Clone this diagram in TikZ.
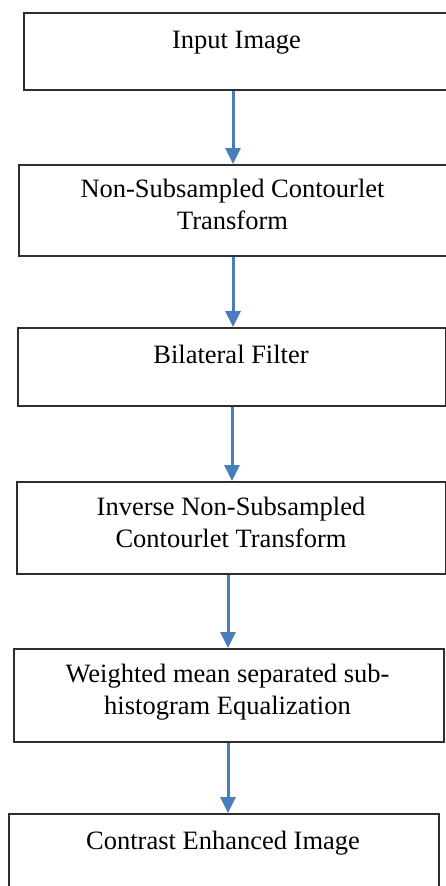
\documentclass[tikz,border=0pt]{standalone}
\usepackage{fontspec}
\setmainfont{Liberation Serif}
\usetikzlibrary{arrows.meta}
\definecolor{boxgray}{HTML}{2E2E2E}
\definecolor{arrowblue}{HTML}{4A7EBB}
\begin{document}
\begin{tikzpicture}[x=1pt,y=-1pt,
  box/.style={draw=boxgray,line width=1.6pt,rectangle,inner sep=0pt,anchor=north west},
  lbl/.style={font=\fontsize{26.5}{31.5}\selectfont,align=center,anchor=base,inner sep=0pt},
  flow/.style={draw=arrowblue,line width=3pt,-{Triangle[width=15pt,length=16pt]}}]
\path[use as bounding box,clip] (0,0) rectangle (446,886);
% boxes
\node[box,minimum width=430pt,minimum height=77pt] (b1) at (23,12) {};
\node[box,minimum width=435pt,minimum height=91pt] (b2) at (18,164) {};
\node[box,minimum width=428pt,minimum height=78pt] (b3) at (17,327) {};
\node[box,minimum width=429pt,minimum height=92pt] (b4) at (16,481) {};
\node[box,minimum width=430pt,minimum height=93pt] (b5) at (13,648) {};
\node[box,minimum width=430pt,minimum height=90pt] (b6) at (8,813) {};
% labels (base anchor = baseline of last line)
\node[lbl] (t1) at (236.5,48) {Input Image};
\node[lbl] (t2) at (232.5,229) {Non-Subsampled Contourlet\\Transform};
\node[lbl] (t3) at (231,363) {Bilateral Filter};
\node[lbl] (t4) at (231,547) {Inverse Non-Subsampled\\Contourlet Transform};
\node[lbl] (t5) at (227.5,714) {Weighted mean separated sub-\\histogram Equalization};
\node[lbl] (t6) at (223,849) {Contrast Enhanced Image};
% arrow columns
\coordinate (a1) at (233,0);
\coordinate (a2) at (233,0);
\coordinate (a3) at (232,0);
\coordinate (a4) at (228,0);
\coordinate (a5) at (228,0);
\draw[flow] (b1.south -| a1) -- (b2.north -| a1);
\draw[flow] (b2.south -| a2) -- (b3.north -| a2);
\draw[flow] (b3.south -| a3) -- (b4.north -| a3);
\draw[flow] (b4.south -| a4) -- (b5.north -| a4);
\draw[flow] (b5.south -| a5) -- (b6.north -| a5);
\end{tikzpicture}
\end{document}
